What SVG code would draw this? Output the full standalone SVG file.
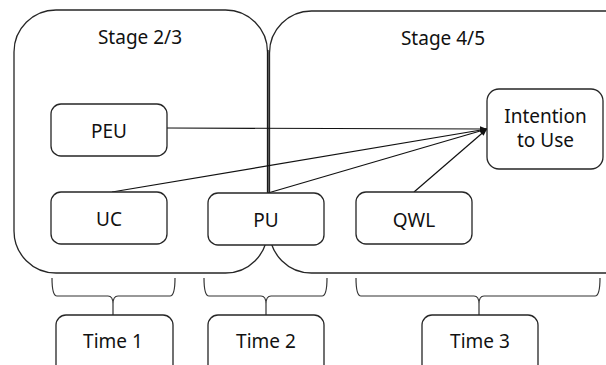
<svg xmlns="http://www.w3.org/2000/svg" width="606" height="365" viewBox="0 0 606 365">
<style>
.box{fill:none;stroke:#262626;stroke-width:1.3}
.node{fill:#fff;stroke:#262626;stroke-width:1.3}
.t{font-family:"Noto Sans","Open Sans",sans-serif;font-size:19px;fill:#111;text-anchor:middle}
.c{fill:none;stroke:#111;stroke-width:1.2}
.br{fill:none;stroke:#333;stroke-width:1.2}
</style>
<defs>
<marker id="ah" viewBox="0 0 10 10" refX="10" refY="5" markerWidth="7" markerHeight="7" markerUnits="userSpaceOnUse" orient="auto">
<path d="M0,1 L10,5 L0,9 z" fill="#111"/>
</marker>
</defs>
<rect fill="#fff" x="0" y="0" width="606" height="365"/>
<g id="stage23">
<rect class="box" x="14" y="10" width="253.5" height="263" rx="42" ry="42"/>
<text class="t" x="140" y="44">Stage 2/3</text>
</g>
<g id="stage45">
<rect class="box" x="269.5" y="11" width="380" height="262" rx="42" ry="42"/>
<text class="t" x="443" y="45">Stage 4/5</text>
</g>
<g id="connectors">
<line class="c" x1="167" y1="128" x2="487" y2="129" marker-end="url(#ah)"/>
<line class="c" x1="112" y1="192" x2="487" y2="129" marker-end="url(#ah)"/>
<line class="c" x1="268" y1="193" x2="487" y2="129" marker-end="url(#ah)"/>
<line class="c" x1="414" y1="192" x2="487" y2="129" marker-end="url(#ah)"/>
<line class="c" x1="268" y1="50" x2="268" y2="193"/>
<path class="br" d="M52,278 Q52,296 57,296 L108,296 Q113,296 113,304 L113,315 M175,278 Q175,296 170,296 L118,296 Q113,296 113,304"/>
<path class="br" d="M204,278 Q204,296 209,296 L261,296 Q266,296 266,304 L266,315 M327,278 Q327,296 322,296 L271,296 Q266,296 266,304"/>
<path class="br" d="M356,278 Q356,296 361,296 L474,296 Q479,296 479,304 L479,315 M600,278 Q600,296 595,296 L484,296 Q479,296 479,304"/>
</g>
<g id="peu">
<rect class="node" x="51" y="104" width="116" height="52" rx="10"/>
<text class="t" x="109" y="138">PEU</text>
</g>
<g id="uc">
<rect class="node" x="51" y="192" width="116" height="52" rx="10"/>
<text class="t" x="109" y="226">UC</text>
</g>
<g id="pu">
<rect class="node" x="208" y="193" width="116" height="52" rx="10"/>
<text class="t" x="266" y="227">PU</text>
</g>
<g id="qwl">
<rect class="node" x="356" y="192" width="116" height="52" rx="10"/>
<text class="t" x="414" y="227">QWL</text>
</g>
<g id="intention">
<rect class="node" x="487" y="89" width="116" height="80" rx="12"/>
<text class="t" x="545.5" y="123">Intention</text>
<text class="t" x="545.5" y="147">to Use</text>
</g>
<g id="time1">
<rect class="node" x="56" y="315" width="117" height="60" rx="10"/>
<text class="t" x="113" y="348">Time 1</text>
</g>
<g id="time2">
<rect class="node" x="208" y="315" width="116" height="60" rx="10"/>
<text class="t" x="266" y="348">Time 2</text>
</g>
<g id="time3">
<rect class="node" x="422" y="315" width="116" height="60" rx="10"/>
<text class="t" x="480" y="348">Time 3</text>
</g>
</svg>
